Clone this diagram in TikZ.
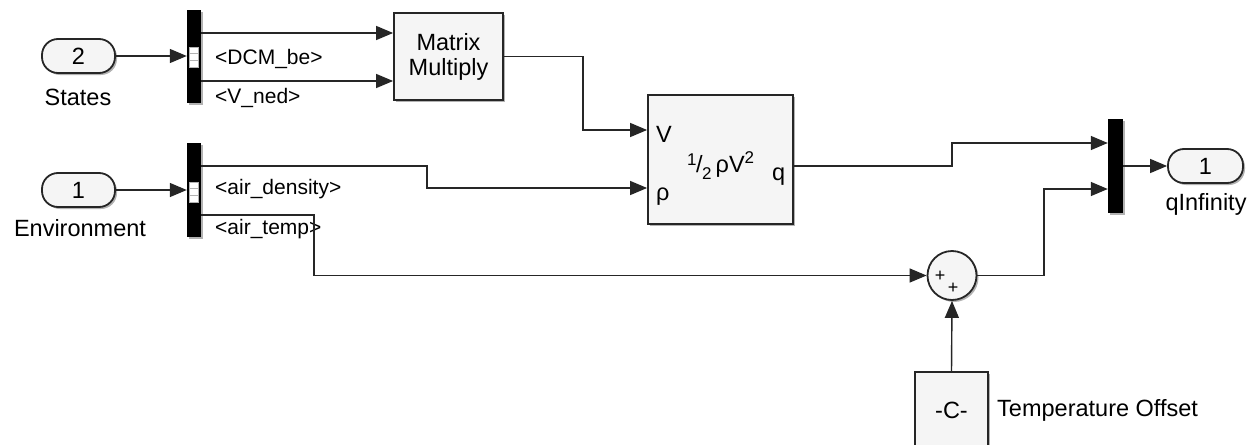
\documentclass[tikz,border=0pt]{standalone}
\usepackage{fontspec}
\setmainfont{Liberation Sans}
\usetikzlibrary{arrows.meta,shadows,calc}
\definecolor{blk}{HTML}{F5F5F5}
\definecolor{ln}{HTML}{262626}
\begin{document}
\begin{tikzpicture}[x=1pt,y=-1pt,
  font=\fontsize{23.5}{26}\selectfont,
  shad/.style={drop shadow={shadow xshift=2pt,shadow yshift=-2pt,opacity=.3,fill=black}},
  blockbox/.style={draw=ln,line width=1.8pt,fill=blk,inner sep=0pt,shad},
  port/.style={draw=ln,line width=1.8pt,fill=blk,rounded corners=16pt,minimum width=73pt,minimum height=34pt,inner sep=0pt,shad},
  bar/.style={fill=black,draw=none,inner sep=0pt,minimum width=14pt,shad},
  sig/.style={draw=ln,line width=1.4pt,-{Triangle[length=17pt,width=14pt]}},
  lab/.style={font=\fontsize{21}{24}\selectfont,anchor=west,inner sep=0pt},
  txt/.style={inner sep=0pt},
]
\useasboundingbox (0,0) rectangle (1257,444);

% inports
\node[port] (in2) at (78.5,56) {2};
\node[txt] (lstates) at (78,97) {States};
\node[port] (in1) at (78.5,190) {1};
\node[txt] (lenv) at (80,228) {Environment};

% bus selectors
\node[bar,minimum height=93pt] (bus1) at (194,56.5) {};
\node[bar,minimum height=94pt] (bus2) at (194,190) {};
\foreach \yy in {57,192}{
  \draw[fill=white,draw=gray!60,line width=.8pt] (189.5,\yy-10) rectangle (198.5,\yy+10);
  \draw[gray!60,line width=1pt] (189.5,\yy-3.5) -- (198.5,\yy-3.5) (189.5,\yy+3.5) -- (198.5,\yy+3.5);
}

% matrix multiply
\node[blockbox,minimum width=109pt,minimum height=87pt,align=center,font=\fontsize{23.5}{25}\selectfont] (mm) at (448.5,56.5) {Matrix\\Multiply};

% dynamic pressure
\node[blockbox,minimum width=145pt,minimum height=129pt] (dp) at (720.5,159.5) {};
\node[txt,anchor=base west] (lv) at (656,142) {V};
\node[txt,anchor=base west] (lrho) at (656,200) {ρ};
\node[txt,anchor=base west] (lq) at (772,180) {q};
\node[txt,anchor=base west] (lform) at (687,172) {\raisebox{7pt}{\fontsize{17}{17}\selectfont 1}\kern-0.5pt/\kern-0.5pt\raisebox{-7pt}{\fontsize{17}{17}\selectfont 2}\kern4pt ρV\raisebox{9pt}{\fontsize{17}{17}\selectfont 2}};

% sum
\node[circle,draw=ln,line width=1.8pt,fill=blk,minimum size=49pt,inner sep=0pt,shad] (sum) at (952,275.5) {};
\node[txt,font=\fontsize{18}{18}\selectfont] (p1) at (940,276) {+};
\node[txt,font=\fontsize{18}{18}\selectfont] (p2) at (953,288) {+};

% constant
\node[blockbox,minimum width=73pt,minimum height=100pt] (const) at (951.5,422) {};
\node[txt] (lc) at (951.5,410) {-C-};
\node[txt,anchor=west] (lto) at (997,410) {Temperature Offset};

% mux
\node[bar,minimum width=15pt,minimum height=94pt] (mux) at (1115.5,166) {};

% outport
\node[port,minimum width=75pt] (out1) at (1205.5,166) {1};
\node[txt] (lqinf) at (1206,204) {qInfinity};

% signal labels
\node[lab] (sDCM) at (215,59) {<DCM\_be>};
\node[lab] (sV) at (215,98) {<V\_ned>};
\node[lab] (sRho) at (215,189) {<air\_density>};
\node[lab] (sT) at (215,229) {<air\_temp>};

% junction coordinates
\coordinate (j1) at (583,130);
\coordinate (j2) at (427,166);
\coordinate (j3) at (314,215);
\coordinate (j4) at (952,166);
\coordinate (j5) at (1044,275.5);

% connectors
\draw[sig] (in2.east) -- (in2.east -| bus1.west);
\draw[sig] (in1.east) -- (in1.east -| bus2.west);
\draw[sig] ([yshift=23.5pt]bus1.east) -- ([yshift=23.5pt]mm.west);
\draw[sig] ([yshift=-24.5pt]bus1.east) -- ([yshift=-24.5pt]mm.west);
\draw[sig] (mm.east) -| (j1) -- ([yshift=29.5pt]dp.west);
\draw[sig] ([yshift=24pt]bus2.east) -- (j2) |- ([yshift=-28.5pt]dp.west);
\draw[sig] ([yshift=-25pt]bus2.east) -- (j3) |- (sum.west);
\draw[sig] ([yshift=-6.5pt]dp.east) -- (j4) |- ([yshift=23pt]mux.west);
\draw[sig] (sum.east) -- (j5) |- ([yshift=-23pt]mux.west);
\draw[sig] (mux.east) -- (out1.west);
\draw[sig] (const.north) -- (sum.south);
\end{tikzpicture}
\end{document}
